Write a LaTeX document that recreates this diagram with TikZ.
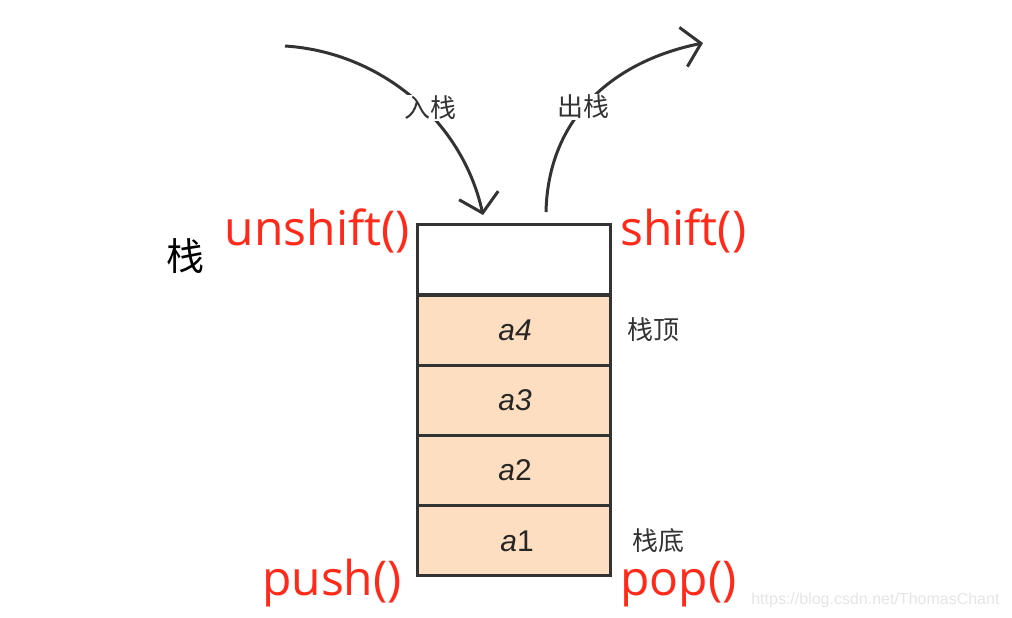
\documentclass[tikz,border=0pt]{standalone}
\usepackage{fontspec}
\setmainfont{Open Sans}
\newfontfamily\cjk{Noto Sans CJK SC}
\newfontfamily\arial{Liberation Sans}
\usetikzlibrary{arrows.meta}
\definecolor{peach}{HTML}{FDDEC0}
\definecolor{dk}{HTML}{333333}
\definecolor{rd}{HTML}{FF2A1A}
\tikzset{
  cell/.style={draw=dk, line width=3pt, minimum width=193pt, minimum height=70pt, inner sep=0pt, anchor=north west},
  filled/.style={cell, fill=peach},
  red label/.style={text=rd, font=\fontsize{48}{48}\selectfont, inner sep=0pt},
  cjk label/.style={text=dk, font=\cjk\fontsize{26}{26}\selectfont, inner sep=1pt},
  cell text/.style={text=black!85, font=\arial\fontsize{30}{30}\selectfont},
  flow/.style={draw=dk, line width=3pt, -{Straight Barb[length=18pt,width=40pt,line width=3pt]}},
}
\begin{document}
\begin{tikzpicture}[x=1pt,y=-1pt]
\useasboundingbox (0,0) rectangle (1012,618);
% stack cells
\node[cell, fill=white] (c0) at (416,223) {};
\node[filled] (c4) at (416,294) {};
\node[filled] (c3) at (416,364) {};
\node[filled] (c2) at (416,434) {};
\node[filled] (c1) at (416,504) {};
\node[cell text] (t4) at (515,330) {\itshape a4};
\node[cell text] (t3) at (515,400) {\itshape a3};
\node[cell text] (t2) at (515,470) {\textit{a}\upshape 2};
\node[cell text] (t1) at (517,541) {\textit{a}\upshape 1};
% arrows
\coordinate (inS) at (285,46);
\coordinate (inE) at (483,215);
\coordinate (outS) at (546,212);
\coordinate (outE) at (703,43);
\draw[flow] (inS) .. controls (380,52) and (462,120) .. (inE);
\draw[flow] (outS) .. controls (548,120) and (610,62) .. (outE);
\node[cjk label, fill=white] (in) at (430,108) {入栈};
\node[cjk label, fill=white] (out) at (583,107) {出栈};
% labels
\node[red label, anchor=base east] (unshift) at (410,245) {unshift()};
\node[red label, anchor=base west] (shift) at (620,245) {shift()};
\node[red label, anchor=base east] (push) at (402,595) {push()};
\node[red label, anchor=base west] (pop) at (620,595) {pop()};
\node[text=black, font=\cjk\fontsize{38}{38}\selectfont] (zhan) at (185,256) {栈};
\node[cjk label] (top) at (653,330) {栈顶};
\node[cjk label] (bottom) at (658,541) {栈底};
\node[text=black!10, font=\arial\fontsize{16}{16}\selectfont, anchor=east] (wm) at (1003,600) {https://blog.csdn.net/ThomasChant};
\end{tikzpicture}
\end{document}
